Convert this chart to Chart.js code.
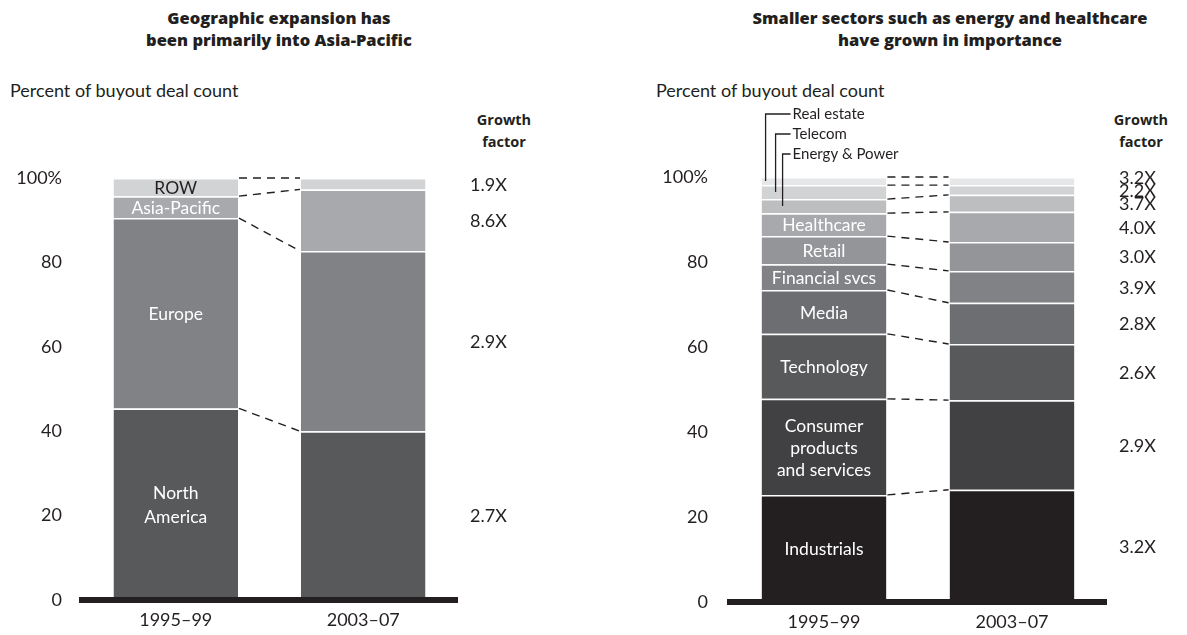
<!DOCTYPE html>
<html>
<head>
<meta charset="utf-8">
<script src="https://cdn.jsdelivr.net/npm/chart.js@4.4.1/dist/chart.umd.min.js"></script>
<style>
  html, body { margin: 0; padding: 0; background: #ffffff; }
  body { width: 1187px; height: 635px; position: relative; overflow: hidden; font-family: Lato, "Open Sans", sans-serif; color: #231f20; }
  canvas { position: absolute; top: 0; }
  .title { position: absolute; top: 7px; font-family: "Open Sans", Lato, sans-serif; font-weight: 800; font-size: 16.5px; line-height: 22px; text-align: center; white-space: nowrap; }
  .sub { position: absolute; top: 79px; font-size: 18px; line-height: 22px; white-space: nowrap; }
  .gf { position: absolute; top: 109px; font-family: "Open Sans", Lato, sans-serif; font-weight: 700; font-size: 14.5px; line-height: 22px; text-align: center; }
</style>
</head>
<body>
<div class="title" style="left:79px;width:400px;">Geographic expansion has<br>been primarily into Asia-Pacific</div>
<div class="title" style="left:700px;width:500px;">Smaller sectors such as energy and healthcare<br>have grown in importance</div>
<div class="sub" style="left:10px;">Percent of buyout deal count</div>
<div class="sub" style="left:656px;">Percent of buyout deal count</div>
<div class="gf" style="left:464px;width:80px;">Growth<br>factor</div>
<div class="gf" style="left:1101px;width:80px;">Growth<br>factor</div>
<canvas id="c1" width="594" height="635" style="left:0px;"></canvas>
<canvas id="c2" width="593" height="635" style="left:594px;"></canvas>
<script>
// ---------- data ----------
const categories = ['1995\u201399', '2003\u201307'];
const yTickValues = [0, 20, 40, 60, 80, 100];
const yTickLabels = ['0', '20', '40', '60', '80', '100%'];

const regionNames = ['North America', 'Europe', 'Asia-Pacific', 'ROW'];
const region1995 = [45.4, 45.1, 5.2, 4.3];
const region2003 = [40.0, 42.7, 14.6, 2.7];
const regionGrowth = ['2.7X', '2.9X', '8.6X', '1.9X'];
const regionInLabels = [['North', 'America'], ['Europe'], ['Asia-Pacific'], ['ROW']];

const sectorNames = ['Industrials', 'Consumer products and services', 'Technology', 'Media',
  'Financial svcs', 'Retail', 'Healthcare', 'Energy & Power', 'Telecom', 'Real estate'];
const sector1995 = [25.2, 22.6, 15.3, 10.3, 6.1, 6.6, 5.4, 3.3, 3.3, 1.9];
const sector2003 = [26.4, 21.1, 13.2, 9.7, 7.5, 6.8, 7.1, 4.0, 2.3, 1.9];
const sectorGrowth = ['3.2X', '2.9X', '2.6X', '2.8X', '3.9X', '3.0X', '4.0X', '3.7X', '2.2X', '3.2X'];
const sectorInLabels = [['Industrials'], ['Consumer', 'products', 'and services'], ['Technology'], ['Media'],
  ['Financial svcs'], ['Retail'], ['Healthcare'], null, null, null];
const sectorCallouts = ['Energy & Power', 'Telecom', 'Real estate'];

// ---------- styles ----------
const INK = '#231f20';
const FONT = 'Lato, "Open Sans", sans-serif';
const regionColors = ['#58595b', '#808285', '#a7a9ac', '#d1d3d4'];
const regionTextColors = ['#ffffff', '#ffffff', '#ffffff', INK];
const sectorColors = ['#231f20', '#414042', '#58595b', '#6d6e71', '#808285', '#939598', '#a7a9ac', '#bcbec0', '#d1d3d4', '#e6e7e8'];

Chart.defaults.font.family = FONT;
Chart.defaults.color = INK;

function overlayPlugin(cfg) {
  return {
    id: 'overlay',
    afterDatasetsDraw(chart) {
      const ctx = chart.ctx;
      const n = chart.data.datasets.length;
      ctx.save();
      // dashed connectors
      ctx.strokeStyle = INK;
      ctx.lineWidth = 1.4;
      ctx.setLineDash([8, 6]);
      for (let i = 0; i < n; i++) {
        const m = chart.getDatasetMeta(i);
        const a = m.data[0], b = m.data[1];
        ctx.beginPath();
        ctx.moveTo(a.x + a.width / 2 + 1, a.y);
        ctx.lineTo(b.x - b.width / 2 - 1, b.y);
        ctx.stroke();
      }
      ctx.setLineDash([]);
      // labels inside first bar
      ctx.textAlign = 'center';
      ctx.textBaseline = 'middle';
      ctx.font = cfg.inFont;
      for (let i = 0; i < n; i++) {
        const lines = cfg.inLabels[i];
        if (!lines) continue;
        const a = chart.getDatasetMeta(i).data[0];
        const cy = (a.y + a.base) / 2;
        ctx.fillStyle = cfg.inColors[i];
        lines.forEach((t, k) => {
          ctx.fillText(t, a.x, cy + (k - (lines.length - 1) / 2) * cfg.lineH + 1);
        });
      }
      // growth factors (mid of second bar's segments, nudged apart when crowded)
      ctx.textAlign = 'left';
      ctx.fillStyle = INK;
      ctx.font = cfg.gFont;
      const area = chart.chartArea;
      let prevY = Infinity;
      for (let i = 0; i < n; i++) {
        const b = chart.getDatasetMeta(i).data[1];
        let y = (b.y + b.base) / 2 + 1;
        if (y > prevY - cfg.minGap) y = prevY - cfg.minGap;
        prevY = y;
        ctx.fillText(cfg.growth[i], area.right + 13, y);
      }
      // callouts
      if (cfg.callouts) {
        ctx.lineWidth = 1.3;
        ctx.strokeStyle = INK;
        ctx.font = cfg.cFont;
        cfg.callouts.forEach(c => {
          const a = chart.getDatasetMeta(c.ds).data[0];
          const left = a.x - a.width / 2;
          const vx = left + c.dx;
          const segMid = (a.y + a.base) / 2;
          ctx.beginPath();
          ctx.moveTo(vx, segMid);
          ctx.lineTo(vx, c.ty);
          ctx.lineTo(left + 29, c.ty);
          ctx.stroke();
          ctx.fillText(c.text, left + 31, c.ty);
        });
      }
      ctx.restore();
    }
  };
}

function makeChart(id, names, d1, d2, colors, yWidth, tickPad, padTop, padRight, xHeight, overlayCfg) {
  const datasets = names.map((nm, i) => ({
    label: nm,
    data: [d1[i], d2[i]],
    backgroundColor: colors[i],
    borderColor: '#ffffff',
    borderWidth: { top: 1.5, left: 0, right: 0, bottom: 0 },
    borderSkipped: 'start',
    categoryPercentage: 1.0,
    barPercentage: 0.664
  }));
  return new Chart(document.getElementById(id), {
    type: 'bar',
    data: { labels: categories, datasets },
    options: {
      responsive: false,
      animation: false,
      devicePixelRatio: 1,
      layout: { padding: { top: padTop, right: padRight, left: 0, bottom: 0 } },
      plugins: { legend: { display: false }, tooltip: { enabled: false }, title: { display: false } },
      scales: {
        x: {
          stacked: true,
          grid: { display: false, drawTicks: false },
          border: { display: true, color: INK, width: 6, z: 1 },
          ticks: { font: { size: 18 }, color: INK, padding: 9 },
          afterFit: s => { s.height = xHeight; }
        },
        y: {
          stacked: true,
          min: 0, max: 100,
          grid: { display: false, drawTicks: false },
          border: { display: false },
          ticks: {
            stepSize: 20,
            font: { size: 18 },
            color: INK,
            padding: tickPad,
            callback: v => { const k = yTickValues.indexOf(v); return k >= 0 ? yTickLabels[k] : ''; }
          },
          afterFit: s => { s.width = yWidth; }
        }
      }
    },
    plugins: [overlayPlugin(overlayCfg)]
  });
}

makeChart('c1', regionNames, region1995, region2003, regionColors, 82, 20, 178, 137, 35, {
  inLabels: regionInLabels,
  inColors: regionTextColors,
  inFont: '17.5px ' + FONT,
  lineH: 24,
  gFont: '18px ' + FONT,
  minGap: 13,
  growth: regionGrowth
});

makeChart('c2', sectorNames, sector1995, sector2003, sectorColors, 136, 22, 177, 81, 33, {
  inLabels: sectorInLabels,
  inColors: sectorColors.map(() => '#ffffff'),
  inFont: '17.5px ' + FONT,
  lineH: 22,
  gFont: '18px ' + FONT,
  minGap: 13,
  growth: sectorGrowth,
  cFont: '15px ' + FONT,
  callouts: [
    { ds: 9, dx: 4, ty: 114, text: sectorCallouts[2] },
    { ds: 8, dx: 14, ty: 134, text: sectorCallouts[1] },
    { ds: 7, dx: 21, ty: 154, text: sectorCallouts[0] }
  ]
});
</script>
</body>
</html>
